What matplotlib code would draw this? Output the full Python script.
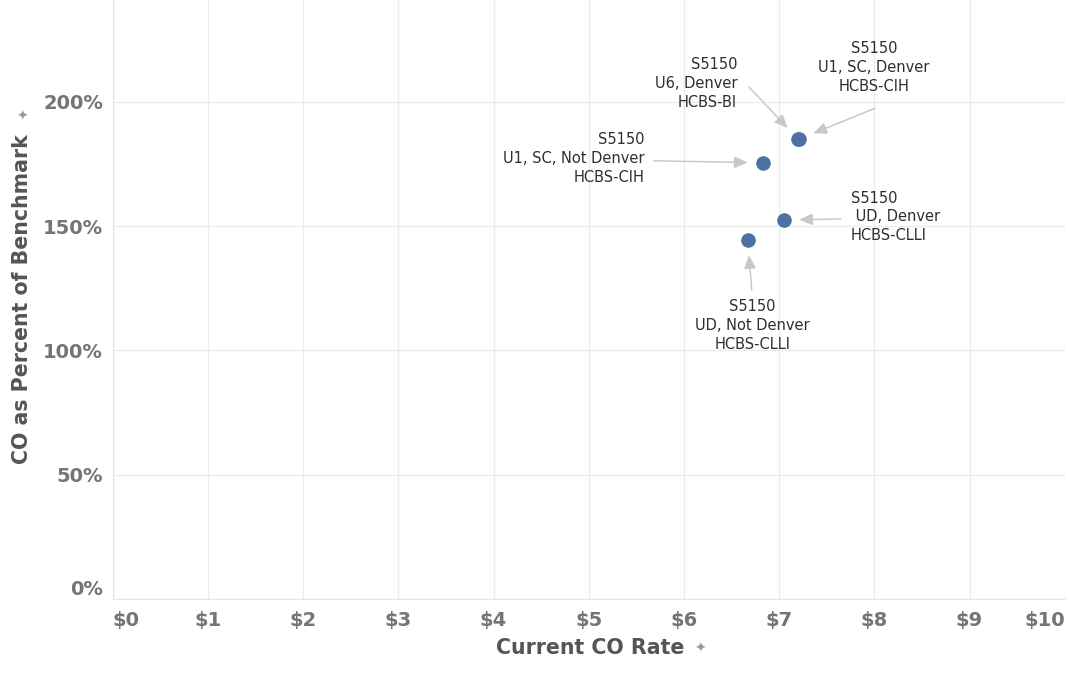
import numpy as np
import matplotlib
matplotlib.use("Agg")
import matplotlib.pyplot as plt
from matplotlib.ticker import FuncFormatter

# data
labels = ["S5150\nU6, Denver\nHCBS-BI",
          "S5150\nU1, SC, Denver\nHCBS-CIH",
          "S5150\nU1, SC, Not Denver\nHCBS-CIH",
          "S5150\n UD, Denver\nHCBS-CLLI",
          "S5150\nUD, Not Denver\nHCBS-CLLI"]
co_rate = [7.20, 7.21, 6.83, 7.05, 6.67]
pct_benchmark = [185.0, 185.0, 175.5, 152.5, 144.5]

x_ticks = list(range(0, 11))
y_ticks = [0, 50, 100, 150, 200]

# label placement (offsets in pixels from the point): text, arrow start, alignment
text_off = [(-61, 56), (75, 72), (-118, 4), (67, 3), (5, -86)]
arrow_off = [(-49, 52), (76, 31), (-109, 2), (57, 1), (4, -50)]
text_ha = ["right", "center", "right", "left", "center"]

plt.rcParams['font.family'] = ['DejaVu Sans']

fig = plt.figure(figsize=(10.69, 6.73), dpi=100)
ax = fig.add_axes([0.1055, 0.110, 0.8905, 0.890])

ax.scatter(co_rate, pct_benchmark, s=110, color="#4e71a4", zorder=3, linewidths=0)

for lab, x, y, to, ao, ha in zip(labels, co_rate, pct_benchmark, text_off, arrow_off, text_ha):
    ax.annotate("", xy=(x, y), xytext=ao, textcoords="offset pixels",
                arrowprops=dict(arrowstyle="-|>,head_length=0.8,head_width=0.35",
                                color="#c8c8c8", lw=1.1, shrinkA=0, shrinkB=11))
    ax.annotate(lab, xy=(x, y), xytext=to, textcoords="offset pixels",
                ha=ha, va="center", fontsize=10.5, color="#2e2e2e",
                linespacing=1.32, multialignment=ha)

ax.set_xlim(0, 10)
ax.set_ylim(0, 241)
ax.set_xticks(x_ticks)
ax.set_yticks(y_ticks)
ax.xaxis.set_major_formatter(FuncFormatter(lambda v, p: "$%d" % v))
ax.yaxis.set_major_formatter(FuncFormatter(lambda v, p: "%d%%" % v))
ax.tick_params(length=0, labelsize=14, labelcolor="#757575", pad=9)
for t in ax.get_xticklabels() + ax.get_yticklabels():
    t.set_fontweight("bold")
xt = ax.get_xticklabels()
xt[0].set_horizontalalignment("left")
xt[-1].set_horizontalalignment("right")
ax.get_yticklabels()[0].set_verticalalignment("bottom")
ax.tick_params(axis="y", pad=7)

ax.grid(True, color="#ececec", lw=1)
ax.set_axisbelow(True)
for s in ["top", "right"]:
    ax.spines[s].set_visible(False)
for s in ["left", "bottom"]:
    ax.spines[s].set_color("#e6e6e6")

fig.text(0.552, 0.022, "Current CO Rate", ha="center", va="bottom",
         fontsize=14.8, fontweight="bold", color="#555555")
fig.text(0.650, 0.026, "\u2726", ha="left", va="bottom", fontsize=10, color="#999999")
fig.text(0.021, 0.556, "CO as Percent of Benchmark", ha="center", va="center",
         rotation=90, fontsize=14.8, fontweight="bold", color="#555555")
fig.text(0.021, 0.826, "\u2726", ha="center", va="center", fontsize=10, color="#999999")

fig.savefig("out.png", dpi=100)
